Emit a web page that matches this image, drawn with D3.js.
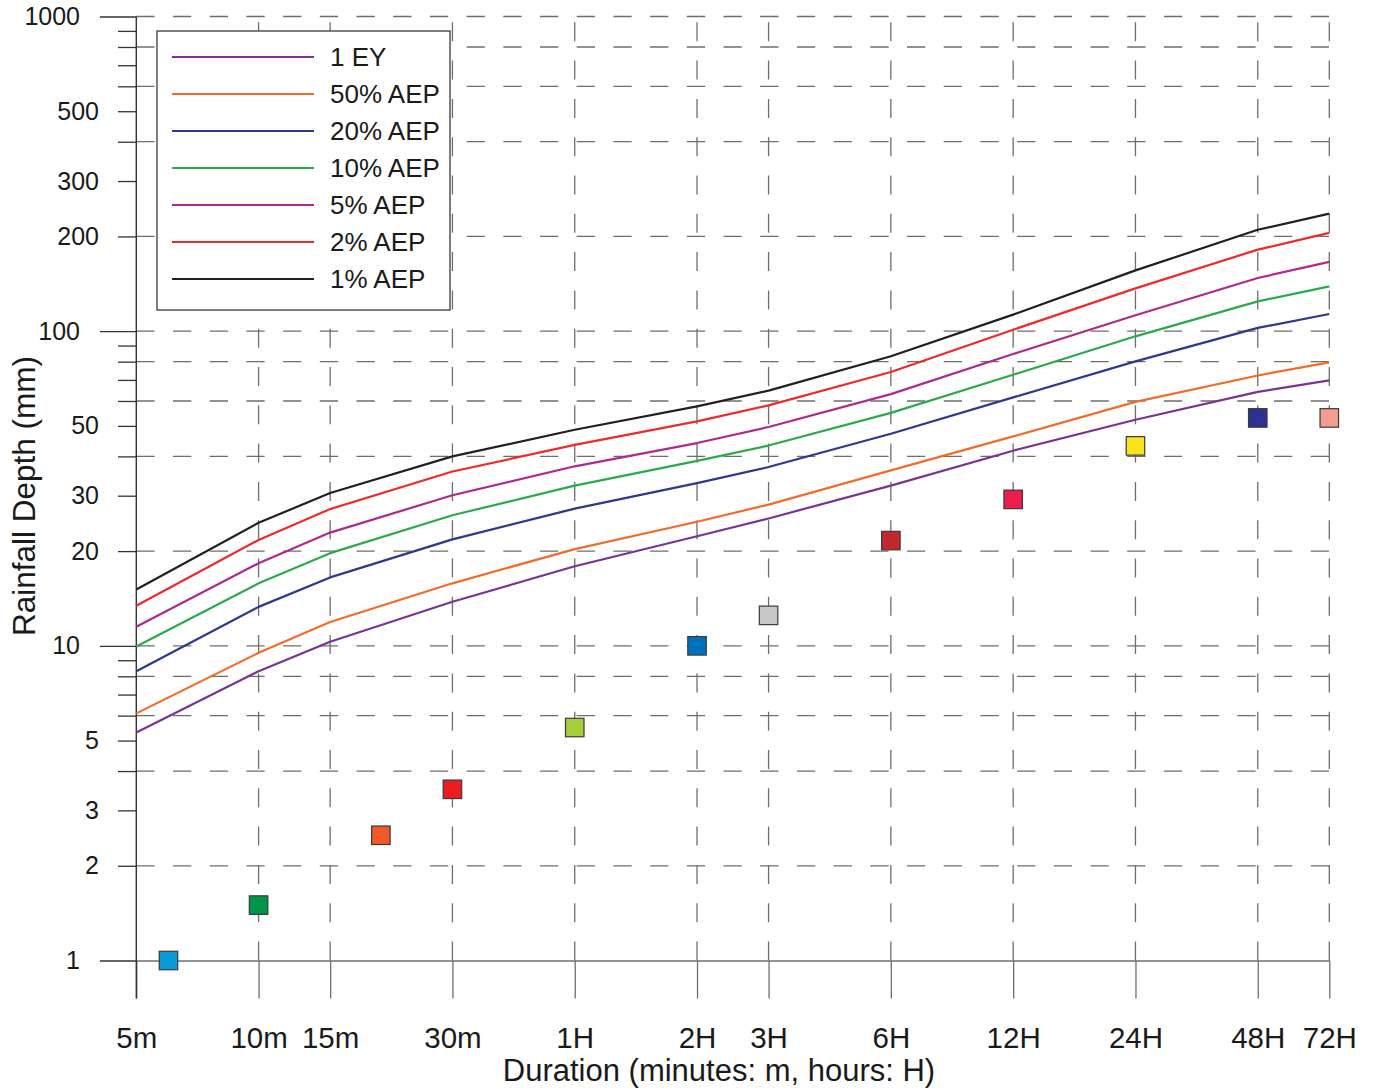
<!DOCTYPE html>
<html>
<head>
<meta charset="utf-8">
<script src="https://cdn.jsdelivr.net/npm/d3@7"></script>
<style>
  html, body { margin: 0; padding: 0; background: #fff; }
  svg { display: block; font-family: "Liberation Sans", Arial, Helvetica, sans-serif; }
</style>
</head>
<body>
<svg id="chart" width="1374" height="1088"></svg>
<script>
// ---- Data ----
const durations = [5, 10, 15, 30, 60, 120, 180, 360, 720, 1440, 2880, 4320]; // minutes
const durationLabels = ["5m", "10m", "15m", "30m", "1H", "2H", "3H", "6H", "12H", "24H", "48H", "72H"];

const seriesNames = ["1 EY", "50% AEP", "20% AEP", "10% AEP", "5% AEP", "2% AEP", "1% AEP"];
const seriesColors = ["#7b3294", "#f26b2a", "#2b3990", "#2baa4a", "#b0288f", "#ee2a2a", "#231f20"];

const ey1    = [5.3, 8.3, 10.3, 13.8, 17.9, 22.3, 25.4, 32.3, 41.7, 52.3, 64.1, 69.8];
const aep50  = [6.1, 9.5, 11.9, 15.8, 20.3, 24.8, 28.1, 36.1, 46.3, 59.6, 72.3, 79.6];
const aep20  = [8.3, 13.3, 16.5, 21.8, 27.3, 32.9, 37.0, 47.2, 61.6, 80.2, 102.4, 113.4];
const aep10  = [9.95, 15.8, 19.7, 26.0, 32.3, 38.7, 43.3, 55.0, 72.7, 96.3, 124.4, 138.8];
const aep5   = [11.5, 18.3, 22.9, 30.1, 37.2, 44.1, 49.6, 63.1, 84.6, 112.3, 147.6, 166];
const aep2   = [13.4, 21.7, 27.2, 35.8, 43.5, 51.7, 58.1, 74.2, 101.1, 136.8, 181.6, 205.2];
const aep1   = [15.1, 24.6, 30.6, 40.0, 48.6, 57.7, 64.7, 83.2, 112.9, 156, 210, 236.4];
const seriesValues = [ey1, aep50, aep20, aep10, aep5, aep2, aep1];

const pointDurations = [6, 10, 20, 30, 60, 120, 180, 360, 720, 1440, 2880, 4320];
const pointValues    = [1.0, 1.5, 2.5, 3.5, 5.5, 10.0, 12.5, 21.6, 29.2, 43.2, 53.0, 53.0];
const pointColors    = ["#0a9bd7", "#00964a", "#f05a28", "#ec1c24", "#a6ce39", "#0072bc",
                        "#c8c8c6", "#c1272d", "#eb1e4e", "#f9e21e", "#2e3192", "#f29d94"];

const yDecadeTicks = [1, 10, 100, 1000];
const yLabelTicks  = [2, 3, 5, 20, 30, 50, 200, 300, 500];
const yMinorTicks  = [4, 6, 7, 8, 9, 40, 60, 70, 80, 90, 400, 600, 700, 800, 900];
const yGridValues  = [2, 4, 6, 8, 10, 20, 40, 60, 80, 100, 200, 400, 600, 800, 1000];

// ---- Scales ----
const svg = d3.select("#chart");
const x = d3.scaleLog().domain([5, 4320]).range([136.3, 1329.3]);
const y = d3.scaleLog().domain([1, 1000]).range([960.5, 16.5]);
const x0 = x.range()[0], x1 = x.range()[1];
const gridColor = "#6e6e6e";
const textColor = "#1a1a1a";

// ---- Grid ----
const grid = svg.append("g");
grid.selectAll("line.h").data(yGridValues).join("line")
  .attr("x1", x0).attr("x2", x1)
  .attr("y1", d => y(d)).attr("y2", d => y(d))
  .attr("stroke", gridColor).attr("stroke-width", 1.3)
  .attr("stroke-dasharray", "18.3,18.4");
grid.selectAll("line.v").data(durations.slice(1)).join("line")
  .attr("x1", d => x(d)).attr("x2", d => x(d))
  .attr("y1", y(1)).attr("y2", y(1000))
  .attr("stroke", gridColor).attr("stroke-width", 1.3)
  .attr("stroke-dasharray", "19,19.3");

// ---- X axis ----
const xAxis = d3.axisBottom(x)
  .tickValues(durations)
  .tickFormat((d, i) => durationLabels[i])
  .tickSize(38).tickSizeOuter(0);
const gx = svg.append("g").attr("transform", `translate(0,${y(1)})`).call(xAxis);
gx.select(".domain").attr("stroke", gridColor).attr("stroke-width", 1.3);
gx.selectAll(".tick line").attr("stroke", gridColor).attr("stroke-width", 1.3);
gx.selectAll(".tick text")
  .attr("y", 87).attr("dy", null)
  .attr("font-size", 29.5).attr("fill", textColor)
  .attr("font-family", "\"Liberation Sans\", Arial, sans-serif");

// ---- Y axes ----
function styleY(g, fs) {
  g.select(".domain").remove();
  g.selectAll(".tick line").attr("stroke", "#333").attr("stroke-width", 1.3);
  g.selectAll(".tick text").attr("font-size", fs).attr("fill", textColor)
    .attr("font-family", "\"Liberation Sans\", Arial, sans-serif");
}
const gyDec = svg.append("g").attr("transform", `translate(${x0},0)`)
  .call(d3.axisLeft(y).tickValues(yDecadeTicks).tickFormat(d3.format("d")).tickSize(36.3).tickPadding(20));
styleY(gyDec, 25);
const gyLab = svg.append("g").attr("transform", `translate(${x0},0)`)
  .call(d3.axisLeft(y).tickValues(yLabelTicks).tickFormat(d3.format("d")).tickSize(18.3).tickPadding(19));
styleY(gyLab, 25);
const gyMin = svg.append("g").attr("transform", `translate(${x0},0)`)
  .call(d3.axisLeft(y).tickValues(yMinorTicks).tickFormat("").tickSize(18.3));
styleY(gyMin, 25);

// y axis line
svg.append("line")
  .attr("x1", x0).attr("x2", x0).attr("y1", y(1000)).attr("y2", y(1) + 38)
  .attr("stroke", "#333").attr("stroke-width", 1.4);

// ---- Lines ----
const lineGen = d3.line().x((d, i) => x(durations[i])).y(d => y(d));
svg.append("g").selectAll("path").data(seriesValues).join("path")
  .attr("d", d => lineGen(d))
  .attr("fill", "none")
  .attr("stroke", (d, i) => seriesColors[i])
  .attr("stroke-width", 2.2)
  .attr("stroke-linejoin", "round");

// ---- Points ----
const sq = 18.5;
svg.append("g").selectAll("rect").data(pointValues).join("rect")
  .attr("x", (d, i) => x(pointDurations[i]) - sq / 2)
  .attr("y", d => y(d) - sq / 2)
  .attr("width", sq).attr("height", sq)
  .attr("fill", (d, i) => pointColors[i])
  .attr("stroke", "#3a3a3a").attr("stroke-width", 1.2);

// ---- Legend ----
const lg = svg.append("g");
lg.append("rect").attr("x", 157).attr("y", 31).attr("width", 293).attr("height", 279)
  .attr("fill", "#fff").attr("stroke", "#3a3a3a").attr("stroke-width", 1.3);
const items = lg.selectAll("g.item").data(seriesNames).join("g")
  .attr("transform", (d, i) => `translate(0,${57 + i * 37})`);
items.append("line").attr("x1", 172).attr("x2", 314).attr("y1", 0).attr("y2", 0)
  .attr("stroke", (d, i) => seriesColors[i]).attr("stroke-width", 2.2);
items.append("text").attr("x", 330).attr("y", 0).attr("dy", "0.36em")
  .attr("font-size", 26).attr("fill", textColor).text(d => d);

// ---- Axis titles ----
svg.append("text").attr("x", 719).attr("y", 1081).attr("text-anchor", "middle")
  .attr("font-size", 31).attr("fill", textColor)
  .text("Duration (minutes: m, hours: H)");
svg.append("text").attr("transform", "translate(35,496) rotate(-90)")
  .attr("text-anchor", "middle").attr("font-size", 31.5).attr("fill", textColor)
  .text("Rainfall Depth (mm)");
</script>
</body>
</html>
